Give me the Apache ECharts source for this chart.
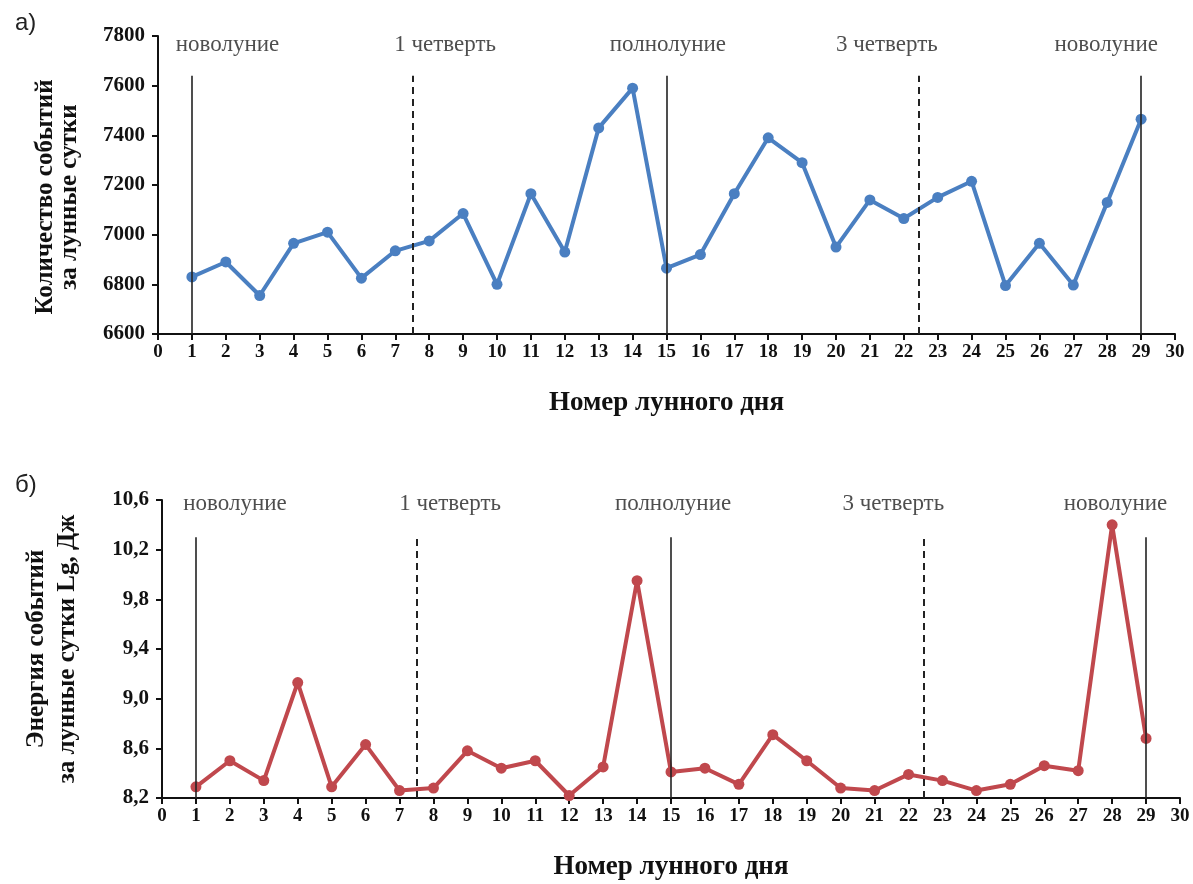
<!DOCTYPE html>
<html>
  <head>
    <meta charset="utf-8" />
    <script src="https://cdn.jsdelivr.net/npm/echarts@6/dist/echarts.min.js"></script>
    <style>
      html, body { margin: 0; padding: 0; background: #fff; }
    </style>
  </head>
  <body>
    <div id="main" style="width: 1193px; height: 884px"></div>

    <script type="text/javascript">
      // lunar day numbers
      var days = [1, 2, 3, 4, 5, 6, 7, 8, 9, 10, 11, 12, 13, 14, 15,
                  16, 17, 18, 19, 20, 21, 22, 23, 24, 25, 26, 27, 28, 29];

      // a) number of events per lunar day
      var eventCount = [6830, 6890, 6755, 6965, 7010, 6825, 6935, 6975, 7085, 6800,
                        7165, 6930, 7430, 7590, 6865, 6920, 7165, 7390, 7290, 6950,
                        7140, 7065, 7150, 7215, 6795, 6965, 6797, 7130, 7465];

      // б) energy of events per lunar day, Lg J
      var eventEnergy = [8.29, 8.50, 8.34, 9.13, 8.29, 8.63, 8.26, 8.28, 8.58, 8.44,
                         8.50, 8.22, 8.45, 9.95, 8.41, 8.44, 8.31, 8.71, 8.50, 8.28,
                         8.26, 8.39, 8.34, 8.26, 8.31, 8.46, 8.42, 10.40, 8.68];

      // moon phases
      var phaseNames = ["новолуние", "1 четверть", "полнолуние", "3 четверть", "новолуние"];
      var phaseNameX1 = [2.05, 8.47, 15.04, 21.5, 27.97];
      var phaseNameX2 = [2.15, 8.49, 15.06, 21.55, 28.1];
      var solidLinesX = [1, 15, 29];
      var dashedLinesX = [7.5, 22.45];

      var font = "Liberation Serif";

      function phaseLines(xs, ymin, ytop) {
        return xs.map(function (x) {
          return [{ coord: [x, ymin] }, { coord: [x, ytop] }];
        });
      }

      function phaseText(xs, y) {
        return xs.map(function (x, i) {
          return { value: [x, y], name: phaseNames[i] };
        });
      }

      function xAxis(gridIndex) {
        return {
          type: "value",
          gridIndex: gridIndex,
          min: 0,
          max: 30,
          interval: 1,
          name: "Номер лунного дня",
          nameLocation: "middle",
          nameGap: 56,
          nameTextStyle: { fontFamily: font, fontWeight: "bold", fontSize: 27, color: "#111" },
          axisLine: { lineStyle: { color: "#111", width: 2 } },
          axisTick: { show: true, length: 6, lineStyle: { color: "#111", width: 2 } },
          axisLabel: { fontFamily: font, fontWeight: "bold", fontSize: 19, color: "#111", margin: 9 },
          splitLine: { show: false }
        };
      }

      function yAxis(gridIndex, min, max, step, name, gap, lh, pad, fmt) {
        return {
          type: "value",
          gridIndex: gridIndex,
          min: min,
          max: max,
          interval: step,
          name: name,
          nameLocation: "middle",
          nameGap: gap,
          nameTextStyle: {
            fontFamily: font, fontWeight: "bold", fontSize: 25, color: "#111",
            lineHeight: lh, padding: pad
          },
          axisLine: { show: true, lineStyle: { color: "#111", width: 2 } },
          axisTick: { show: true, length: 6, lineStyle: { color: "#111", width: 2 } },
          axisLabel: { fontFamily: font, fontWeight: "bold", fontSize: 21, color: "#111", margin: 13, formatter: fmt },
          splitLine: { show: false }
        };
      }

      function lineSeries(ax, values, color, ymin, ytop) {
        return [
          {
            type: "line",
            xAxisIndex: ax,
            yAxisIndex: ax,
            data: days.map(function (d, i) { return [d, values[i]]; }),
            symbol: "circle",
            symbolSize: 11,
            lineStyle: { color: color, width: 4 },
            itemStyle: { color: color },
            z: 3,
            markLine: {
              silent: true,
              symbol: "none",
              label: { show: false },
              lineStyle: { color: "#222", width: 1.6, type: "solid" },
              data: phaseLines(solidLinesX, ymin, ytop)
            }
          },
          {
            type: "line",
            xAxisIndex: ax,
            yAxisIndex: ax,
            data: [],
            markLine: {
              silent: true,
              symbol: "none",
              label: { show: false },
              lineStyle: { color: "#222", width: 2, type: [7, 5] },
              data: phaseLines(dashedLinesX, ymin, ytop)
            }
          }
        ];
      }

      function labelSeries(ax, xs, y) {
        return {
          type: "scatter",
          xAxisIndex: ax,
          yAxisIndex: ax,
          symbolSize: 0,
          data: phaseText(xs, y),
          label: {
            show: true, position: "inside", formatter: "{b}",
            fontFamily: font, fontSize: 23, color: "#222"
          }
        };
      }

      var myChart = echarts.init(document.getElementById("main"));

      var option = {
        animation: false,
        backgroundColor: "#fff",
        title: [
          { text: "а)", left: 10, top: 6, textStyle: { fontFamily: "Liberation Sans", fontWeight: "normal", fontSize: 24, color: "#222" } },
          { text: "б)", left: 10, top: 468, textStyle: { fontFamily: "Liberation Sans", fontWeight: "normal", fontSize: 24, color: "#222" } }
        ],
        grid: [
          { left: 158, top: 36, right: 18, height: 298 },
          { left: 162, top: 500, right: 13, height: 298 }
        ],
        xAxis: [xAxis(0), xAxis(1)],
        yAxis: [
          yAxis(0, 6600, 7800, 200, "Количество событий\nза лунные сутки", 76, 24, [0, 24, 0, 0],
                function (v) { return String(v); }),
          yAxis(1, 8.2, 10.6, 0.4, "Энергия событий\nза лунные сутки Lg, Дж", 79, 31, 0,
                function (v) { return v.toFixed(1).replace(".", ","); })
        ],
        series: []
          .concat(lineSeries(0, eventCount, "#4a7fc1", 6600, 7640))
          .concat([labelSeries(0, phaseNameX1, 7765)])
          .concat(lineSeries(1, eventEnergy, "#c0484d", 8.2, 10.3))
          .concat([labelSeries(1, phaseNameX2, 10.57)])
      };

      myChart.setOption(option);
    </script>
  </body>
</html>
